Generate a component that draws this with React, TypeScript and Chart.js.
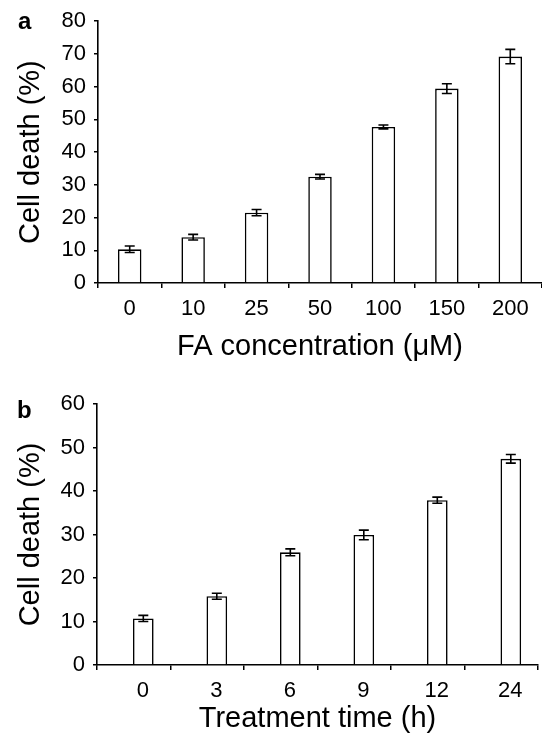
import React, { useEffect, useRef } from "react";
import { Chart, registerables } from "chart.js";
Chart.register(...registerables);

const FONT = "'Liberation Sans', Arial, Helvetica, sans-serif";

// Panel a
const catsA = ["0", "10", "25", "50", "100", "150", "200"];
const valsA = [10.3, 14.0, 21.5, 32.5, 47.7, 59.4, 69.2];
const errA = [1.0, 0.85, 0.95, 0.7, 0.6, 1.5, 2.2];
const yMaxA = 80;
const xTitleA = "FA concentration (μM)";

// Panel b
const catsB = ["0", "3", "6", "9", "12", "24"];
const valsB = [10.7, 15.8, 25.9, 29.9, 37.9, 47.4];
const errB = [0.7, 0.7, 0.8, 1.1, 0.7, 1.0];
const yMaxB = 60;
const xTitleB = "Treatment time (h)";

const yTitle = "Cell death (%)";
const yStep = 10;

const errorBarPlugin = {
  id: "errbars",
  afterDatasetsDraw(chart: any, _args: any, opts: any) {
    const errs: number[] = opts.errors || [];
    const di: number = opts.datasetIndex || 0;
    const meta = chart.getDatasetMeta(di);
    const ys = chart.scales.y;
    const ctx = chart.ctx;
    const data = chart.data.datasets[di].data as number[];
    ctx.save();
    ctx.strokeStyle = "#000";
    ctx.lineWidth = 1.6;
    meta.data.forEach((bar: any, i: number) => {
      const v = data[i];
      const e = errs[i] || 0;
      const yTop = ys.getPixelForValue(v + e);
      const yBot = ys.getPixelForValue(v - e);
      const x = bar.x;
      const hw = (opts.cap || 10) / 2;
      ctx.beginPath();
      ctx.moveTo(x, yTop);
      ctx.lineTo(x, yBot);
      ctx.moveTo(x - hw, yTop);
      ctx.lineTo(x + hw, yTop);
      ctx.moveTo(x - hw, yBot);
      ctx.lineTo(x + hw, yBot);
      ctx.stroke();
    });
    ctx.restore();
  },
};

type PanelProps = {
  cats: string[];
  vals: number[];
  errs: number[];
  yMax: number;
  xTitle: string;
  width: number;
  height: number;
  padTop: number;
  padRight: number;
  yW: number;
  xH: number;
  barPct: number;
  catPct: number;
  spacer: boolean;
  labelOffset: number;
  top: number;
};

function Panel(p: PanelProps) {
  const ref = useRef<HTMLCanvasElement | null>(null);
  useEffect(() => {
    if (!ref.current) return;
    const realSet = {
      data: p.vals,
      backgroundColor: "#fff",
      borderColor: "#000",
      borderWidth: 1.6,
      barPercentage: p.barPct,
      categoryPercentage: p.catPct,
    };
    // In panel b the bars sit to the right of their category centre;
    // an empty leading slot reproduces that offset.
    const datasets: any[] = p.spacer
      ? [
          {
            data: p.cats.map(() => null),
            backgroundColor: "rgba(0,0,0,0)",
            borderWidth: 0,
            barPercentage: p.barPct,
            categoryPercentage: p.catPct,
          },
          realSet,
        ]
      : [realSet];
    const chart = new Chart(ref.current, {
      type: "bar",
      data: { labels: p.cats, datasets },
      plugins: [errorBarPlugin],
      options: {
        responsive: false,
        animation: false,
        devicePixelRatio: 1,
        layout: { padding: { top: p.padTop, right: p.padRight, left: 0, bottom: 0 } },
        plugins: {
          legend: { display: false },
          tooltip: { enabled: false },
          errbars: { errors: p.errs, cap: 10, datasetIndex: p.spacer ? 1 : 0 },
        } as any,
        scales: {
          x: {
            grid: {
              display: true,
              drawOnChartArea: false,
              drawTicks: true,
              tickLength: 5,
              color: "#000",
              lineWidth: 1.5,
              offset: true,
            },
            border: { display: true, color: "#000", width: 1.6 },
            ticks: {
              color: "#000",
              font: { size: 22, family: FONT },
              padding: 8,
              maxRotation: 0,
              autoSkip: false,
              labelOffset: p.labelOffset,
            },
            title: {
              display: true,
              text: p.xTitle,
              color: "#000",
              font: { size: 29, family: FONT, lineHeight: 1 },
              padding: { top: 0, bottom: 4 },
            },
            afterFit: (s: any) => {
              s.height = p.xH;
            },
          },
          y: {
            min: 0,
            max: p.yMax,
            ticks: {
              stepSize: yStep,
              color: "#000",
              font: { size: 22, family: FONT },
              padding: 8,
            },
            grid: {
              drawOnChartArea: false,
              drawTicks: true,
              tickLength: 4,
              color: "#000",
              lineWidth: 1.5,
            },
            border: { display: true, color: "#000", width: 1.6 },
            title: {
              display: true,
              text: yTitle,
              color: "#000",
              font: { size: 29, family: FONT, lineHeight: 1 },
              padding: { top: 16, bottom: 0 },
            },
            afterFit: (s: any) => {
              s.width = p.yW;
            },
          },
        },
      } as any,
    });
    return () => chart.destroy();
  }, []);
  return (
    <canvas
      ref={ref}
      width={p.width}
      height={p.height}
      style={{ position: "absolute", left: 0, top: p.top, width: p.width, height: p.height }}
    />
  );
}

const labelStyle: React.CSSProperties = {
  position: "absolute",
  fontFamily: FONT,
  fontWeight: "bold",
  fontSize: 24,
  lineHeight: 1,
  color: "#000",
};

export default function App() {
  return (
    <div
      style={{
        position: "absolute",
        left: 0,
        top: 0,
        width: 542,
        height: 737,
        background: "#fff",
        overflow: "hidden",
      }}
    >
      <Panel
        cats={catsA}
        vals={valsA}
        errs={errA}
        yMax={yMaxA}
        xTitle={xTitleA}
        width={542}
        height={365}
        padTop={17}
        padRight={0}
        yW={98}
        xH={82}
        barPct={0.37}
        catPct={1}
        spacer={false}
        labelOffset={0}
        top={0}
      />
      <Panel
        cats={catsB}
        vals={valsB}
        errs={errB}
        yMax={yMaxB}
        xTitle={xTitleB}
        width={542}
        height={372}
        padTop={39}
        padRight={4}
        yW={97}
        xH={72}
        barPct={1.08}
        catPct={0.52}
        spacer={true}
        labelOffset={9}
        top={365}
      />
      <div style={{ ...labelStyle, left: 18, top: 9 }}>a</div>
      <div style={{ ...labelStyle, left: 17, top: 398 }}>b</div>
    </div>
  );
}
